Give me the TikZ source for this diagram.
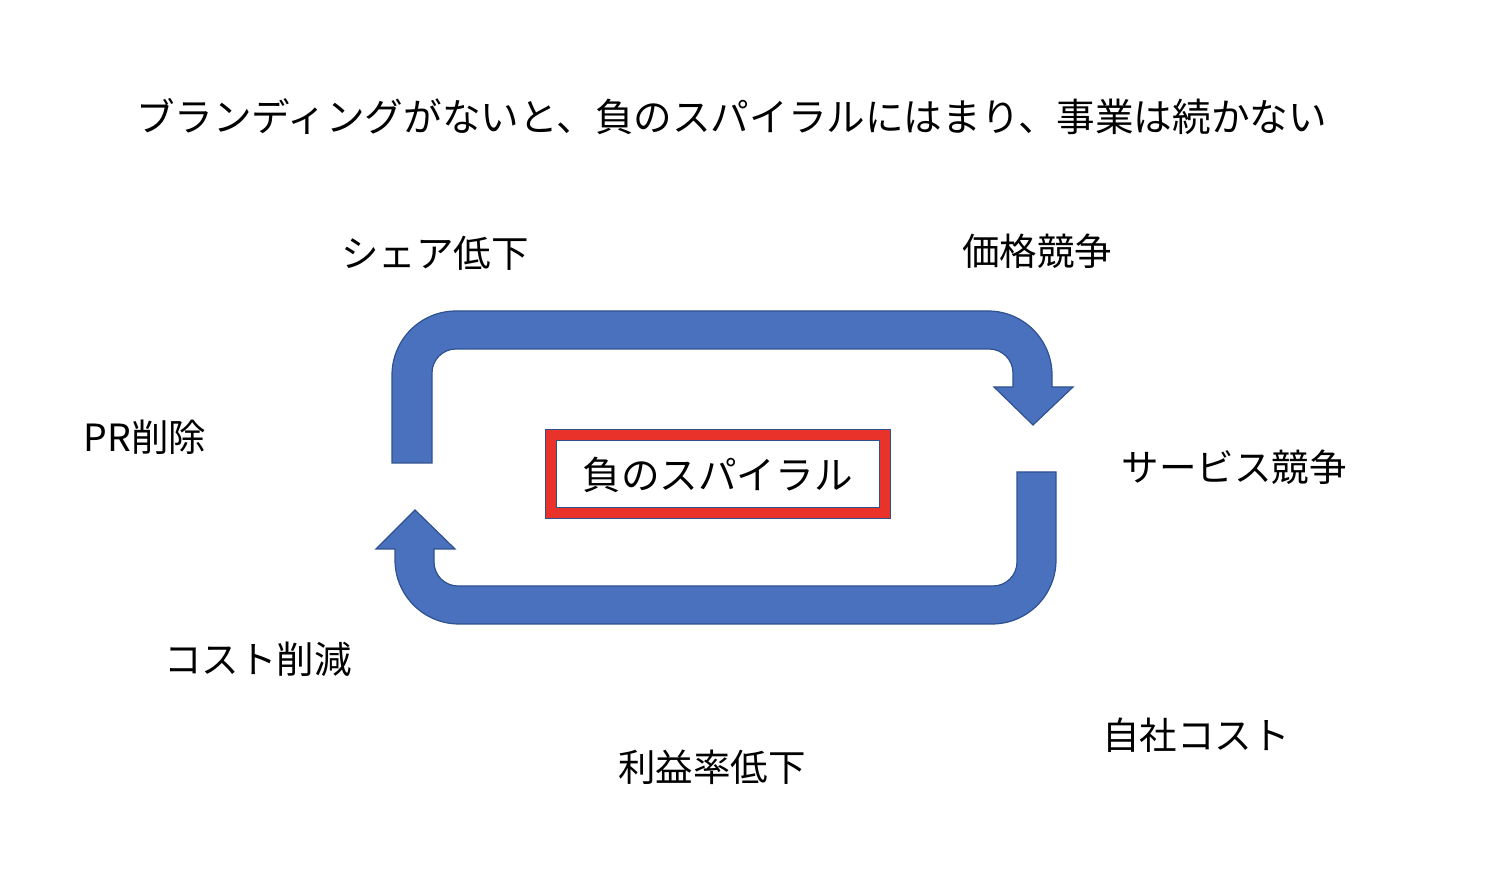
\documentclass[tikz,border=0pt]{standalone}
\usepackage{fontspec}
\setmainfont{Noto Sans CJK JP}
\usepackage{tikz}
\usepackage{xcolor}
\definecolor{arrowblue}{HTML}{4A71BE}
\definecolor{edgeblue}{HTML}{2F528F}
\definecolor{boxred}{HTML}{E8322A}

\begin{document}
\begin{tikzpicture}[x=1pt,y=1pt]
\useasboundingbox (0,0) rectangle (1498,874);
%%%%%%%%%%%%%%%%%%%%%%%%%%%%%%%%%%%%%%%%%%%%%%%%%%%%%%%%%%%%%%
%styles
\tikzstyle{label}=[font=\fontsize{37.5}{40}\selectfont,inner sep=0pt]
\tikzstyle{biglabel}=[font=\fontsize{38.6}{41}\selectfont,inner sep=0pt]
\tikzstyle{uturn}=[fill=arrowblue,draw=edgeblue,line width=1.2pt]
\tikzstyle{frame}=[draw=edgeblue,line width=1pt,double=boxred,double distance=10pt,fill=white,
  minimum width=334pt,minimum height=78pt,inner sep=0pt]

%%%%%%%%%%%%%%%%%%%%%%%%%%%%%%%%%%%%%%%%%%%%%%%%%%%%%%%%%%%%%%
%TITLE
\node[biglabel] (title) at (731.5,757) {ブランディングがないと、負のスパイラルにはまり、事業は続かない};

%%%%%%%%%%%%%%%%%%%%%%%%%%%%%%%%%%%%%%%%%%%%%%%%%%%%%%%%%%%%%%
%ARROWS
%top
\draw[uturn] (392,411) -- (392,499) arc[start angle=180,end angle=90,radius=64]
  -- (988,563) arc[start angle=90,end angle=0,radius=64]
  -- (1052,487) -- (1073,487) -- (1033,449) -- (994,487) -- (1013,487)
  -- (1013,501) arc[start angle=0,end angle=90,radius=24]
  -- (456,525) arc[start angle=90,end angle=180,radius=24]
  -- (432,411) -- cycle;
%bottom
\draw[uturn] (1017,402) -- (1056,402)
  -- (1056,314) arc[start angle=0,end angle=-90,radius=64]
  -- (459,250) arc[start angle=270,end angle=180,radius=64]
  -- (395,325) -- (376,325) -- (415,364) -- (455,325) -- (434,325)
  -- (434,312) arc[start angle=180,end angle=270,radius=24]
  -- (993,288) arc[start angle=-90,end angle=0,radius=24]
  -- (1017,312) -- cycle;

%%%%%%%%%%%%%%%%%%%%%%%%%%%%%%%%%%%%%%%%%%%%%%%%%%%%%%%%%%%%%%
%centre
\node[frame,biglabel] (spiral) at (717.5,399.5) {負のスパイラル\hspace{6pt}};

%%%%%%%%%%%%%%%%%%%%%%%%%%%%%%%%%%%%%%%%%%%%%%%%%%%%%%%%%%%%%%
%steps
\node[label] (share) at (435,621) {シェア低下};
\node[label] (price) at (1037,623) {価格競争};
\node[label] (service) at (1234,407) {サービス競争};
\node[label] (owncost) at (1196,139) {自社コスト};
\node[label] (margin) at (712,107) {利益率低下};
\node[label] (costcut) at (258,215) {コスト削減};
\node[label] (prcut) at (145,437) {PR削除};
\end{tikzpicture}
\end{document}
